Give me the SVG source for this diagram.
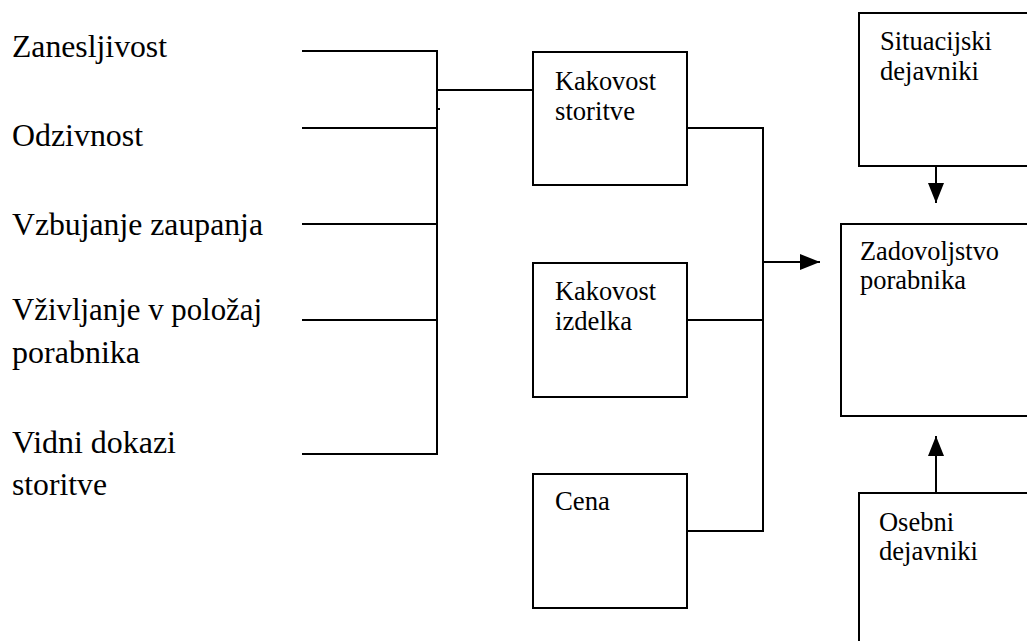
<svg xmlns="http://www.w3.org/2000/svg" width="1027" height="641" viewBox="0 0 1027 641">
<style>
text{font-family:'Liberation Serif','Times New Roman',serif;fill:#000}
.lbl{font-size:32px}
.bt{font-size:26.67px}
.box{fill:#fff;stroke:#000;stroke-width:2}
.ln{fill:none;stroke:#000;stroke-width:2}
</style>
<defs>
<marker id="ah" markerUnits="userSpaceOnUse" markerWidth="20" markerHeight="16" refX="20" refY="8" orient="auto">
<path d="M0,0 L20,8 L0,16 z" fill="#000"/>
</marker>
</defs>
<rect width="1027" height="641" fill="#fff"/>
<g id="labels">
<text class="lbl" x="12" y="57" textLength="155" lengthAdjust="spacingAndGlyphs">Zanesljivost</text>
<text class="lbl" x="12" y="146" textLength="131" lengthAdjust="spacingAndGlyphs">Odzivnost</text>
<text class="lbl" x="12" y="235" textLength="251" lengthAdjust="spacingAndGlyphs">Vzbujanje zaupanja</text>
<text class="lbl" x="12" y="320" textLength="250" lengthAdjust="spacingAndGlyphs">Vživljanje v položaj</text>
<text class="lbl" x="12" y="363" textLength="128" lengthAdjust="spacingAndGlyphs">porabnika</text>
<text class="lbl" x="12" y="453" textLength="164" lengthAdjust="spacingAndGlyphs">Vidni dokazi</text>
<text class="lbl" x="12" y="495" textLength="95" lengthAdjust="spacingAndGlyphs">storitve</text>
</g>
<g id="connectors">
<path class="ln" d="M302,51 H437 V454 H302"/>
<path class="ln" d="M302,128 H437"/>
<path class="ln" d="M302,224 H437"/>
<path class="ln" d="M302,320 H437"/>
<path class="ln" d="M437,90 H533"/>
<path class="ln" d="M437,109 H440"/>
<path class="ln" d="M687,128 H763 V531 H687"/>
<path class="ln" d="M687,320 H763"/>
<path class="ln" d="M763,262 H820" marker-end="url(#ah)"/>
<path class="ln" d="M936,166 V203" marker-end="url(#ah)"/>
<path class="ln" d="M936,493 V436" marker-end="url(#ah)"/>
</g>
<g id="kakovost-storitve">
<rect class="box" x="533" y="52" width="154" height="133"/>
<text class="bt" x="555" y="90" textLength="101" lengthAdjust="spacingAndGlyphs">Kakovost</text>
<text class="bt" x="555" y="120" textLength="80" lengthAdjust="spacingAndGlyphs">storitve</text>
</g>
<g id="kakovost-izdelka">
<rect class="box" x="533" y="263" width="154" height="134"/>
<text class="bt" x="555" y="300" textLength="101" lengthAdjust="spacingAndGlyphs">Kakovost</text>
<text class="bt" x="555" y="330" textLength="77" lengthAdjust="spacingAndGlyphs">izdelka</text>
</g>
<g id="cena">
<rect class="box" x="533" y="474" width="154" height="134"/>
<text class="bt" x="555" y="510" textLength="55" lengthAdjust="spacingAndGlyphs">Cena</text>
</g>
<g id="situacijski">
<rect class="box" x="859" y="13" width="180" height="153"/>
<text class="bt" x="880" y="50" textLength="112" lengthAdjust="spacingAndGlyphs">Situacijski</text>
<text class="bt" x="880" y="80" textLength="99" lengthAdjust="spacingAndGlyphs">dejavniki</text>
</g>
<g id="zadovoljstvo">
<rect class="box" x="841" y="224" width="200" height="192"/>
<text class="bt" x="860" y="260" textLength="139" lengthAdjust="spacingAndGlyphs">Zadovoljstvo</text>
<text class="bt" x="860" y="289" textLength="106" lengthAdjust="spacingAndGlyphs">porabnika</text>
</g>
<g id="osebni">
<rect class="box" x="859" y="493" width="180" height="170"/>
<text class="bt" x="879" y="531" textLength="75" lengthAdjust="spacingAndGlyphs">Osebni</text>
<text class="bt" x="879" y="560" textLength="99" lengthAdjust="spacingAndGlyphs">dejavniki</text>
</g>
</svg>
